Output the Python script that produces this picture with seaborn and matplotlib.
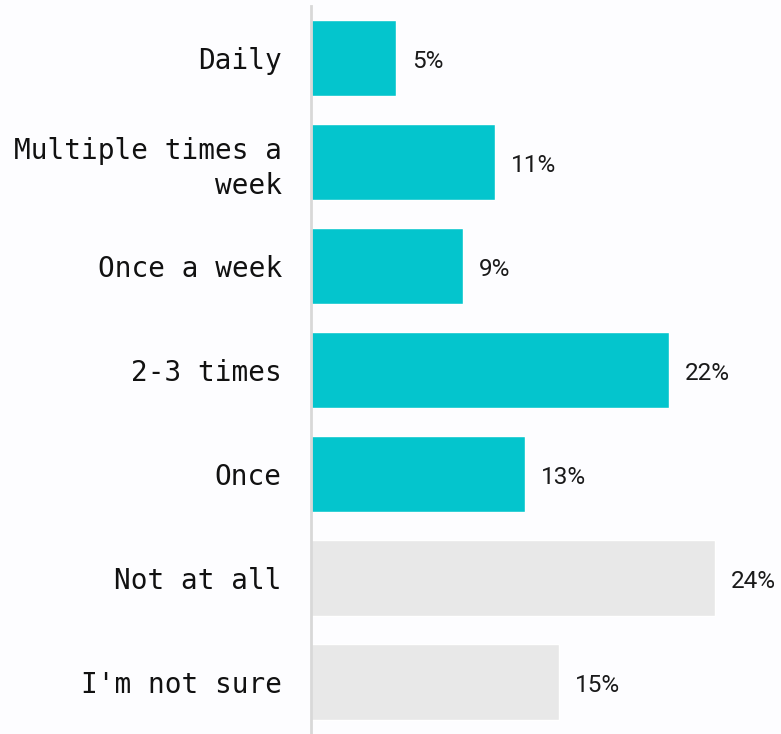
import pandas as pd
import seaborn as sns
import matplotlib.pyplot as plt

# Data
categories = [
    "Daily",
    "Multiple times a\nweek",
    "Once a week",
    "2-3 times",
    "Once",
    "Not at all",
    "I'm not sure",
]
shares = [5.1, 11.0, 9.1, 21.4, 12.8, 24.1, 14.8]
labels = ["5%", "11%", "9%", "22%", "13%", "24%", "15%"]
groups = ["yes", "yes", "yes", "yes", "yes", "no", "no"]

teal = "#04C5CD"
grey = "#E8E8E8"
bg = "#FDFDFF"

df = pd.DataFrame({"category": categories, "share": shares, "group": groups})

sns.set_style("white")
plt.rcParams["font.family"] = ["DejaVu Sans"]

fig = plt.figure(figsize=(7.81, 7.34), dpi=100, facecolor=bg)
ax = fig.add_axes([311 / 781, 0.0, 470 / 781, 728 / 734])
ax.set_facecolor(bg)

sns.barplot(
    data=df,
    x="share",
    y="category",
    hue="group",
    palette={"yes": teal, "no": grey},
    orient="h",
    width=0.73,
    dodge=False,
    legend=False,
    saturation=1,
    ax=ax,
)

for i, (val, lab) in enumerate(zip(shares, labels)):
    ax.text(
        val + 0.95,
        i + 0.03,
        lab,
        va="center",
        ha="left",
        fontsize=17.5,
        family=["Roboto", "DejaVu Sans"],
        color="#1a1a1a",
    )

ax.set_xlim(0, 470 / 16.75)
ax.set_ylim(6.5, -0.5)
ax.set_xlabel("")
ax.set_ylabel("")
ax.set_xticks([])
ax.tick_params(axis="y", length=0, pad=21)
for t in ax.get_yticklabels():
    t.set_fontfamily(["DejaVu Sans Mono"])
    t.set_fontsize(20)
    t.set_color("#111111")
    t.set_linespacing(1.3)

for side in ["top", "right", "bottom"]:
    ax.spines[side].set_visible(False)
ax.spines["left"].set_color("#D8D8D8")
ax.spines["left"].set_linewidth(2)

fig.savefig("out.png", dpi=100, facecolor=bg)
